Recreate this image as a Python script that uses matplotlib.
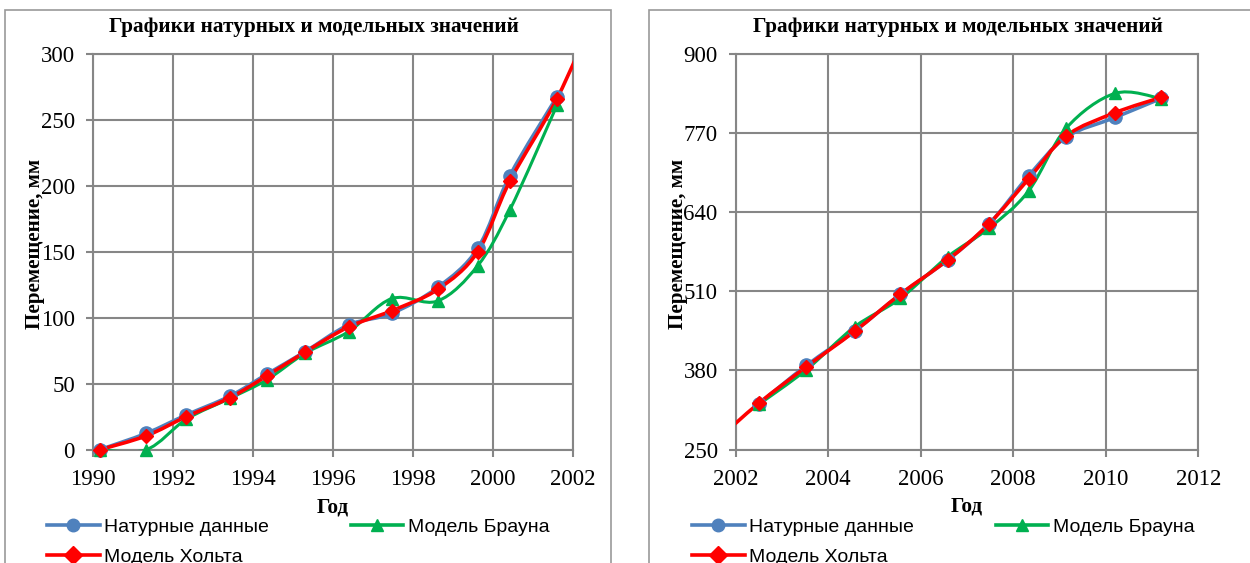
import numpy as np
import matplotlib.pyplot as plt
from matplotlib.path import Path
from matplotlib.patches import PathPatch, Rectangle
from matplotlib.lines import Line2D

# Данные: левый график (1990-2002)
years_1 = [1990.17, 1991.33, 1992.33, 1993.43, 1994.35, 1995.3, 1996.39, 1997.47,
           1998.62, 1999.62, 2000.42, 2001.6]
nat_1 = [0, 12.4, 26.3, 40.7, 57.3, 74.2, 94.5, 103.3, 123, 152.6, 207.5, 267.4]
brown_1 = [0, 0, 23, 39, 53, 73, 89.5, 114.5, 112.7, 139.5, 181.5, 261]
holt_years_1 = years_1 + [2002.5]
holt_1 = [0, 10.5, 25, 39.5, 56, 74, 93, 105.3, 121.5, 150, 203.4, 266, 327]

# Данные: правый график (2002-2012)
years_2 = [2002.5, 2003.53, 2004.57, 2005.56, 2006.58, 2007.47, 2008.33, 2009.14,
           2010.2, 2011.2]
nat_2 = [325, 388, 444.3, 504.6, 561, 619.5, 698.9, 762.4, 795, 826.4]
brown_2 = [324, 381, 451.4, 498, 566.3, 613, 674.2, 777, 834.6, 826]
holt_years_2 = [2001.6] + years_2
holt_2 = [266, 326, 386, 444, 505, 561, 620, 694, 764.5, 802.8, 828]

title = 'Графики натурных и модельных значений'
names = ['Натурные данные', 'Модель Брауна', 'Модель Хольта']
colors = ['#4F81BD', '#00B050', '#FF0000']

W, H = 1250, 563
serif = 'Liberation Serif'
sans = 'Liberation Sans'


def smooth(x, y, t=1/6):
    # сглаженная линия как в Excel (кривые Безье)
    p = np.column_stack([x, y]).astype(float)
    ext = np.vstack([p[0], p, p[-1]])
    verts = [p[0]]
    codes = [Path.MOVETO]
    for i in range(len(p) - 1):
        a, b, c, d = ext[i], ext[i + 1], ext[i + 2], ext[i + 3]
        verts += [b + (c - a) * t, c - (d - b) * t, c]
        codes += [Path.CURVE4] * 3
    return Path(verts, codes)


def draw(ax, series, xlim, ylim, xticks, yticks):
    styles = [('o', 9.5, 2.6), ('^', 9, 2.2), ('D', 7.5, 2.6)]
    for (x, y), col, (mk, ms, lw) in zip(series, colors, styles):
        ax.add_patch(PathPatch(smooth(x, y), fc='none', ec=col, lw=lw, zorder=3))
        x = np.array(x)
        y = np.array(y)
        m = (x >= xlim[0]) & (x <= xlim[1])
        ax.plot(x[m], y[m], ls='none', marker=mk, ms=ms, color=col,
                mec=col, clip_on=False, zorder=4)
    ax.set_xlim(xlim)
    ax.set_ylim(ylim)
    ax.set_xticks(xticks)
    ax.set_yticks(yticks)
    ax.grid(True, color='#868686', lw=1.5)
    ax.set_axisbelow(True)
    for s in ax.spines.values():
        s.set_color('#868686')
        s.set_linewidth(1.5)
    ax.tick_params(length=5, width=1.5, color='#868686', labelsize=16.5)
    ax.tick_params(axis='y', pad=8)
    ax.tick_params(axis='x', pad=9)
    for lab in ax.get_xticklabels() + ax.get_yticklabels():
        lab.set_fontfamily(serif)
    ax.set_xlabel('Год', fontfamily=serif, fontweight='bold', fontsize=15.2, labelpad=5)
    ax.set_ylabel('Перемещение, мм', fontfamily=serif, fontweight='bold', fontsize=15.2,
                  va='center')


fig = plt.figure(figsize=(W / 100, H / 100), dpi=100)

ax1 = fig.add_axes([93 / W, 1 - 449.7 / H, 480 / W, 396 / H])
draw(ax1, [(years_1, nat_1), (years_1, brown_1), (holt_years_1, holt_1)],
     (1990, 2002), (0, 300), range(1990, 2003, 2), range(0, 301, 50))
ax1.yaxis.set_label_coords((35 - 93) / 480, (449.7 - 243.5) / 396)

ax2 = fig.add_axes([735.7 / W, 1 - 449.5 / H, 462.6 / W, 396 / H])
draw(ax2, [(years_2, nat_2), (years_2, brown_2), (holt_years_2, holt_2)],
     (2002, 2012), (250, 900), range(2002, 2013, 2), range(250, 901, 130))
ax2.yaxis.set_label_coords((678 - 735.7) / 462.6, (449.5 - 243.5) / 396)

fig.text(314 / W, 1 - 27 / H, title, ha='center', va='center',
         fontfamily=serif, fontweight='bold', fontsize=15.3)
fig.text(958 / W, 1 - 27 / H, title, ha='center', va='center',
         fontfamily=serif, fontweight='bold', fontsize=15.3)

# Легенды (порядок для двух колонок как в Excel)
markers = ['o', '^', 'D']
handles = [Line2D([], [], color=c, marker=m, lw=2.6, ms=9) for c, m in zip(colors, markers)]
order = [0, 2, 1]
for ax, lx in [(ax1, 47), (ax2, 692)]:
    ax.legend([handles[i] for i in order], [names[i] for i in order], ncol=2,
              loc='upper left', bbox_to_anchor=(lx / W, 1 - 518 / H),
              bbox_transform=fig.transFigure, frameon=False, borderpad=0,
              borderaxespad=0, handlelength=2.7, handletextpad=0.25,
              columnspacing=4.2, labelspacing=0.65,
              prop={'family': sans, 'size': 14})

# рамки областей диаграмм
fig.add_artist(Rectangle((5 / W, -0.1), (611 - 5) / W, 1.1 - 10 / H,
                         transform=fig.transFigure, fill=False, ec='#999999', lw=1.2))
fig.add_artist(Rectangle((649 / W, -0.1), 0.6, 1.1 - 10 / H,
                         transform=fig.transFigure, fill=False, ec='#999999', lw=1.2))

fig.savefig('out.png', dpi=100)
